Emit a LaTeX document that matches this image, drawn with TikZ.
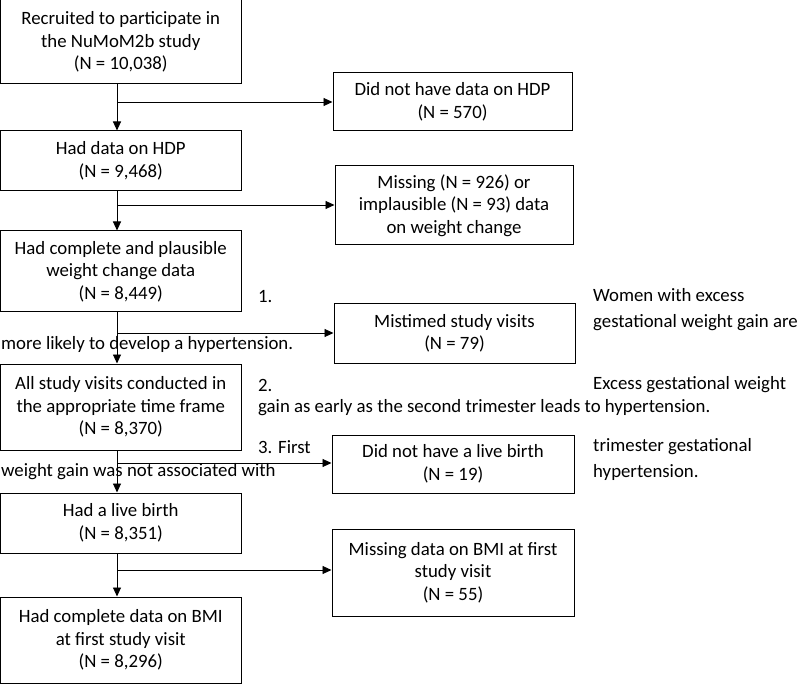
\documentclass[tikz,border=0pt]{standalone}
\usepackage{fontspec}
\setmainfont{Carlito}
\usetikzlibrary{arrows.meta,calc}
\tikzset{
  box/.style={draw=black, line width=1pt, inner sep=0pt, align=center,
    font=\fontsize{18.8}{22.5}\selectfont,
    execute at begin node={\rule{0pt}{19.5pt}}},
  arr/.style={draw=black, line width=0.9pt, -{Triangle[length=9pt,width=8pt]}},
  free/.style={inner sep=0pt, anchor=west, font=\fontsize{18.8}{22.5}\selectfont}
}
\begin{document}
\begin{tikzpicture}[x=1pt,y=-1pt]
\useasboundingbox (0,0) rectangle (800,684);
% left column
\node[box, minimum width=240.5pt, minimum height=84pt] (b1) at (120.75,42) {Recruited to participate in\\the NuMoM2b study\\(N = 10,038)};
\node[box, minimum width=240.5pt, minimum height=60pt] (b2) at (120.75,161) {Had data on HDP\\(N = 9,468)};
\node[box, minimum width=240.5pt, minimum height=81pt] (b3) at (120.75,271.5) {Had complete and plausible\\weight change data\\(N = 8,449)};
\node[box, minimum width=240.5pt, minimum height=86pt] (b4) at (120.75,407) {All study visits conducted in\\the appropriate time frame\\(N = 8,370)};
\node[box, minimum width=240.5pt, minimum height=60pt] (b5) at (120.75,523) {Had a live birth\\(N = 8,351)};
\node[box, minimum width=240.5pt, minimum height=86pt] (b6) at (120.75,640) {Had complete data on BMI\\at first study visit\\(N = 8,296)};
% right column
\node[box, minimum width=239pt, minimum height=58pt] (r1) at (452.5,102) {Did not have data on HDP\\(N = 570)};
\node[box, minimum width=238pt, minimum height=79pt] (r2) at (454,205.5) {Missing (N = 926) or\\implausible (N = 93) data\\on weight change};
\node[box, minimum width=241pt, minimum height=59pt] (r3) at (454.5,333.5) {Mistimed study visits\\(N = 79)};
\node[box, minimum width=242pt, minimum height=58pt] (r4) at (453,464) {Did not have a live birth\\(N = 19)};
\node[box, minimum width=242pt, minimum height=87pt] (r5) at (453,572.5) {Missing data on BMI at first\\study visit\\(N = 55)};
% junctions
\coordinate (j1) at (117,102);
\coordinate (j2) at (117,205);
\coordinate (j3) at (117,333);
\coordinate (j4) at (117,463);
\coordinate (j5) at (117,570);
% vertical arrows
\draw[arr] (b1.south -| j1) -- (b2.north -| j1);
\draw[arr] (b2.south -| j1) -- (b3.north -| j1);
\draw[arr] (b3.south -| j1) -- (b4.north -| j1);
\draw[arr] (b4.south -| j1) -- (b5.north -| j1);
\draw[arr] (b5.south -| j1) -- (b6.north -| j1);
% branch arrows
\draw[arr] (j1) -- (r1.west |- j1);
\draw[arr] (j2) -- (r2.west |- j2);
\draw[arr] (j3) -- (r3.west |- j3);
\draw[arr] (j4) -- (r4.west |- j4);
\draw[arr] (j5) -- (r5.west |- j5);
% stray text
\node[free] (t1) at (258,297) {1.};
\node[free] (t2) at (593,295) {Women with excess};
\node[free] (t3) at (593,323) {gestational weight gain are};
\node[free] (t4) at (1,344) {more likely to develop a hypertension.};
\node[free] (t5) at (258,385) {2.};
\node[free] (t6) at (593,385) {Excess gestational weight};
\node[free] (t7) at (258,408) {gain as early as the second trimester leads to hypertension.};
\node[free] (t8) at (258,447) {3. First};
\node[free] (t9) at (593,447) {trimester gestational};
\node[free] (t10) at (1,472) {weight gain was not associated with};
\node[free] (t11) at (593,472) {hypertension.};
\end{tikzpicture}
\end{document}
